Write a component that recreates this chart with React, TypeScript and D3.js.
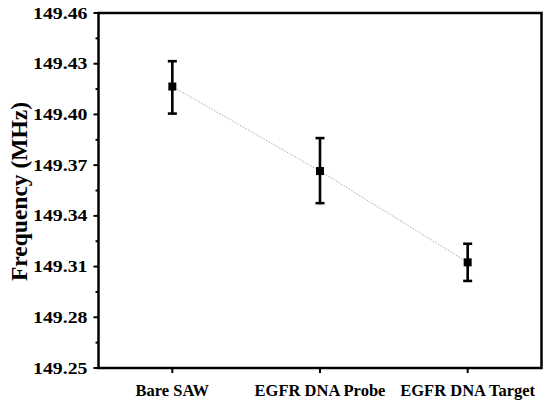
import React from "react";
import * as d3 from "d3";

const categories = ["Bare SAW", "EGFR DNA Probe", "EGFR DNA Target"];
const values = [149.4165, 149.3665, 149.3125];
const errLow = [149.4005, 149.3475, 149.3015];
const errHigh = [149.4315, 149.386, 149.3235];
const yTicks = [149.25, 149.28, 149.31, 149.34, 149.37, 149.4, 149.43, 149.46];
const yMinorTicks = [149.265, 149.295, 149.325, 149.355, 149.385, 149.415, 149.445];

const W = 550;
const H = 405;
const L = 98.5, R = 541.5, T = 13, B = 368;
const font = "'Liberation Serif', 'Times New Roman', serif";

export default function App() {
  const x = d3.scaleLinear().domain([0.5, 3.5]).range([L, R]);
  const y = d3.scaleLinear().domain([149.25, 149.46]).range([B, T]);
  const line = d3
    .line<number>()
    .x((_, i) => x(i + 1))
    .y((d) => y(d));

  return (
    <svg
      width={W}
      height={H}
      style={{ position: "absolute", left: 0, top: 0, background: "#fff" }}
      fontFamily={font}
    >
      <rect x={0} y={0} width={W} height={H} fill="#fff" />
      {/* connecting dotted line */}
      <path
        d={line(values) || ""}
        fill="none"
        stroke="#aaa"
        strokeWidth={1}
        strokeDasharray="1.5,1.5"
      />
      {/* error bars */}
      {values.map((v, i) => {
        const cx = x(i + 1);
        return (
          <g key={i} stroke="#000" strokeWidth={2.6}>
            <line x1={cx} x2={cx} y1={y(errHigh[i])} y2={y(errLow[i])} />
            <line x1={cx - 4.5} x2={cx + 4.5} y1={y(errHigh[i])} y2={y(errHigh[i])} />
            <line x1={cx - 4.5} x2={cx + 4.5} y1={y(errLow[i])} y2={y(errLow[i])} />
            <rect x={cx - 4} y={y(v) - 4} width={8} height={8} fill="#000" stroke="none" />
          </g>
        );
      })}
      {/* frame */}
      <rect x={L} y={T} width={R - L} height={B - T} fill="none" stroke="#000" strokeWidth={2.5} />
      {/* y ticks */}
      {yTicks.map((t) => (
        <g key={t}>
          <line x1={L - 5} x2={L} y1={y(t)} y2={y(t)} stroke="#000" strokeWidth={2} />
          <text
            transform={`translate(${L - 11},${y(t) + 5.5}) scale(1.2,1)`}
            textAnchor="end"
            fontSize={16.5}
            fontWeight="bold"
            fill="#000"
          >
            {t.toFixed(2)}
          </text>
        </g>
      ))}
      {yMinorTicks.map((t) => (
        <line key={t} x1={L - 3} x2={L} y1={y(t)} y2={y(t)} stroke="#000" strokeWidth={2} />
      ))}
      {/* x ticks */}
      {categories.map((c, i) => (
        <g key={c}>
          <line x1={x(i + 1)} x2={x(i + 1)} y1={B} y2={B + 5} stroke="#000" strokeWidth={2} />
          <text
            x={x(i + 1)}
            y={395.5}
            textAnchor="middle"
            fontSize={16.5}
            fontWeight="bold"
            fill="#000"
          >
            {c}
          </text>
        </g>
      ))}
      {/* y label */}
      <text
        transform={`translate(27,191.5) rotate(-90)`}
        textAnchor="middle"
        fontSize={23.5}
        fontWeight="bold"
        fill="#000"
      >
        Frequency (MHz)
      </text>
    </svg>
  );
}
